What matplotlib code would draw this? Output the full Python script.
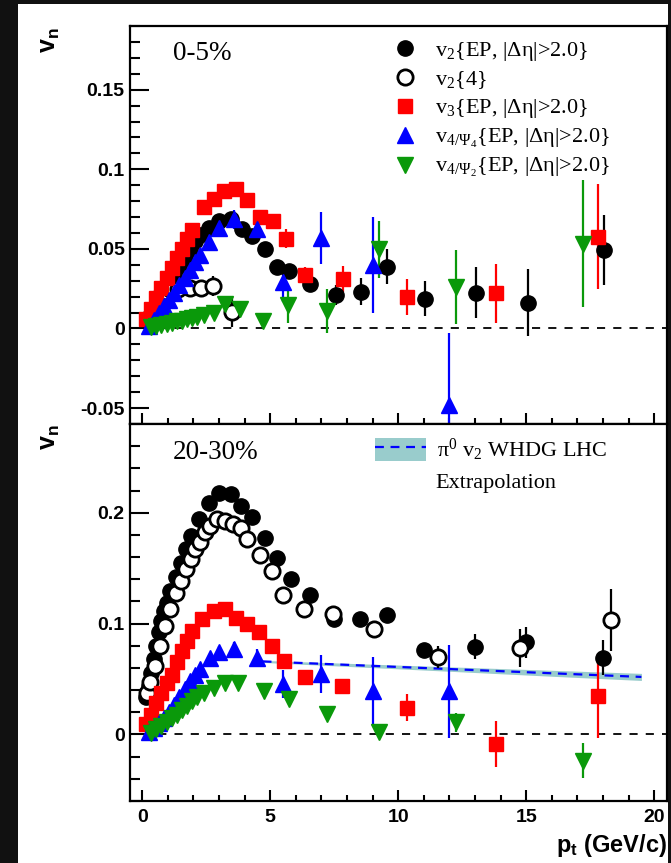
import numpy as np
import matplotlib
matplotlib.use("Agg")
from matplotlib import pyplot as plt
from matplotlib.patches import Rectangle, Patch
from matplotlib.lines import Line2D
from matplotlib.legend_handler import HandlerTuple
from matplotlib.ticker import MultipleLocator

plt.rcParams['font.family'] = ['Liberation Sans', 'DejaVu Sans']
plt.rcParams['mathtext.fontset'] = 'custom'
plt.rcParams['mathtext.rm'] = 'Liberation Serif'
plt.rcParams['mathtext.it'] = 'Liberation Serif:italic'
plt.rcParams['mathtext.bf'] = 'Liberation Sans:bold'

# ---------------- 0-5% centrality ----------------
c05_v2ep_pt = [0.25, 0.45, 0.65, 0.85, 1.05, 1.25, 1.45, 1.65, 1.85, 2.05, 2.25,
               2.6, 3.0, 3.45, 3.9, 4.3, 4.8, 5.25, 5.75, 6.55, 7.55, 8.55, 9.55,
               11.05, 13.05, 15.05, 18.05]
c05_v2ep = [0.007, 0.012, 0.0175, 0.023, 0.0285, 0.034, 0.039, 0.0445, 0.050, 0.055, 0.059,
            0.0634, 0.0675, 0.069, 0.0627, 0.058, 0.050, 0.0389, 0.036, 0.028, 0.021, 0.0232, 0.0389,
            0.0188, 0.0226, 0.0163, 0.0493]
c05_v2ep_err = [0.001] * 11 + [0.002, 0.002, 0.002, 0.002, 0.002, 0.002, 0.003, 0.003, 0.004,
                               0.006, 0.0087, 0.011, 0.011, 0.016, 0.021, 0.022]

c05_v24_pt = [0.75, 0.95, 1.1, 1.4, 1.85, 2.3, 2.75, 3.5]
c05_v24 = [0.021, 0.023, 0.025, 0.025, 0.0257, 0.0257, 0.0267, 0.0104]
c05_v24_err = [0.002, 0.002, 0.002, 0.002, 0.002, 0.003, 0.006, 0.0094]

c05_v3_pt = [0.15, 0.35, 0.55, 0.75, 0.95, 1.15, 1.35, 1.55, 1.75, 1.95,
             2.4, 2.8, 3.2, 3.65, 4.1, 4.6, 5.1, 5.6, 6.35, 7.85, 10.35, 13.8, 17.8]
c05_v3 = [0.006, 0.0125, 0.019, 0.0255, 0.032, 0.038, 0.044, 0.050, 0.056, 0.062,
          0.076, 0.0816, 0.0863, 0.0878, 0.0807, 0.070, 0.0675, 0.0565, 0.0334, 0.031, 0.0198, 0.0221, 0.0577]
c05_v3_err = [0.001] * 10 + [0.001, 0.001, 0.001, 0.002, 0.002, 0.003, 0.004, 0.006, 0.005,
                             0.008, 0.0115, 0.0186, 0.033]

c05_v4p4_pt = [0.25, 0.45, 0.65, 0.85, 1.05, 1.25, 1.45, 1.65, 1.85, 2.05, 2.25,
               2.6, 3.0, 3.6, 4.5, 5.5, 7.0, 9.0, 12.0]
c05_v4p4 = [0.0015, 0.0055, 0.0095, 0.014, 0.018, 0.0225, 0.027, 0.032, 0.037, 0.042, 0.046,
            0.0543, 0.0634, 0.0686, 0.0627, 0.0289, 0.057, 0.0398, -0.048]
c05_v4p4_err = [0.001] * 11 + [0.002, 0.003, 0.006, 0.006, 0.012, 0.0164, 0.030, 0.045]

c05_v4p2_pt = [0.35, 0.55, 0.75, 0.95, 1.15, 1.35, 1.55, 1.75, 1.95, 2.15, 2.4,
               2.8, 3.25, 3.8, 4.7, 5.7, 7.2, 9.25, 12.25, 17.2]
c05_v4p2 = [0.001, 0.0015, 0.002, 0.003, 0.0035, 0.0045, 0.005, 0.006, 0.0065, 0.0075, 0.0085,
            0.010, 0.0152, 0.0125, 0.0048, 0.0145, 0.011, 0.0497, 0.0263, 0.0533]
c05_v4p2_err = [0.001] * 11 + [0.002, 0.0055, 0.003, 0.002, 0.011, 0.014, 0.0178, 0.0233, 0.040]

# ---------------- 20-30% centrality ----------------
c2030_v2ep_pt = [0.15, 0.25, 0.35, 0.45, 0.55, 0.65, 0.75, 0.85, 0.95,
                 1.1, 1.3, 1.5, 1.7, 1.9, 2.2, 2.6, 3.0, 3.45, 3.85, 4.3, 4.8, 5.25,
                 5.8, 6.55, 7.5, 8.5, 9.55, 11.0, 13.0, 15.0, 18.0]
c2030_v2ep = [0.034, 0.044, 0.055, 0.068, 0.080, 0.092, 0.102, 0.111, 0.119,
              0.129, 0.142, 0.155, 0.167, 0.179, 0.194, 0.209, 0.218, 0.217, 0.206, 0.196, 0.177, 0.159,
              0.1405, 0.126, 0.104, 0.104, 0.1075, 0.076, 0.079, 0.083, 0.069]
c2030_v2ep_err = [0.001] * 22 + [0.004, 0.004, 0.005, 0.005, 0.005, 0.006, 0.0113, 0.0143, 0.0158]

c2030_v24_pt = [0.2, 0.3, 0.5, 0.7, 0.9, 1.1, 1.3, 1.5, 1.7, 1.9, 2.05, 2.25, 2.45, 2.65,
                2.9, 3.25, 3.55, 3.85, 4.1, 4.6, 5.05, 5.5, 6.3, 7.45, 9.05, 11.55, 14.75, 18.3]
c2030_v24 = [0.037, 0.047, 0.062, 0.080, 0.098, 0.113, 0.128, 0.138, 0.149, 0.158, 0.167, 0.174, 0.183, 0.188,
             0.194, 0.1925, 0.1895, 0.1865, 0.176, 0.1615, 0.147, 0.126, 0.113, 0.109, 0.0955, 0.070, 0.078, 0.103]
c2030_v24_err = [0.001] * 20 + [0.002, 0.003, 0.003, 0.004, 0.005, 0.010, 0.0173, 0.028]

c2030_v3_pt = [0.15, 0.35, 0.55, 0.75, 0.95, 1.15, 1.35, 1.55, 1.75, 1.95,
               2.35, 2.8, 3.25, 3.65, 4.1, 4.55, 5.05, 5.55, 6.35, 7.8, 10.35, 13.8, 17.8]
c2030_v3 = [0.009, 0.018, 0.028, 0.037, 0.046, 0.054, 0.065, 0.0753, 0.0843, 0.093,
            0.104, 0.111, 0.113, 0.105, 0.0994, 0.0925, 0.080, 0.066, 0.052, 0.0438, 0.0243, -0.0087, 0.0348]
c2030_v3_err = [0.001] * 16 + [0.002, 0.004, 0.004, 0.004, 0.0125, 0.021, 0.038]

c2030_v4p4_pt = [0.25, 0.45, 0.65, 0.85, 1.05, 1.25, 1.45, 1.65, 1.85, 2.05, 2.25,
                 2.65, 3.0, 3.6, 4.5, 5.5, 7.0, 9.0, 12.0]
c2030_v4p4 = [0.002, 0.006, 0.010, 0.015, 0.020, 0.027, 0.034, 0.041, 0.048, 0.054, 0.059,
              0.069, 0.0744, 0.0768, 0.0694, 0.0453, 0.0543, 0.0393, 0.039]
c2030_v4p4_err = [0.001] * 11 + [0.003, 0.005, 0.007, 0.008, 0.0128, 0.0173, 0.031, 0.042]

c2030_v4p2_pt = [0.35, 0.55, 0.75, 0.95, 1.15, 1.35, 1.55, 1.75, 1.95, 2.15, 2.4,
                 2.8, 3.25, 3.75, 4.75, 5.75, 7.2, 9.25, 12.25, 17.2]
c2030_v4p2 = [0.001, 0.005, 0.008, 0.011, 0.0145, 0.018, 0.022, 0.026, 0.030, 0.0335, 0.0378,
              0.0423, 0.0462, 0.0462, 0.0393, 0.0324, 0.0183, 0.0024, 0.0108, -0.0238]
c2030_v4p2_err = [0.001] * 14 + [0.002, 0.002, 0.002, 0.003, 0.009, 0.0158]

# WHDG pi0 v2 extrapolation band
whdg_pt = [4.7, 8.0, 12.0, 16.0, 19.5]
whdg_v2 = [0.0659, 0.0628, 0.0590, 0.0552, 0.0519]
whdg_lo = [0.0650, 0.0614, 0.0570, 0.0525, 0.0487]
whdg_hi = [0.0668, 0.0642, 0.0610, 0.0579, 0.0551]

GREEN = '#0a990a'
BAND = '#99cccc'

series_style = [
    dict(marker='o', color='black', mfc='black', ms=11),
    dict(marker='o', color='black', mfc='white', ms=11, mew=2.0),
    dict(marker='s', color='#ff0000', mfc='#ff0000', ms=10),
    dict(marker='^', color='#0000ff', mfc='#0000ff', ms=11),
    dict(marker='v', color=GREEN, mfc=GREEN, ms=11),
]

labels = [
    r'v$_2${EP, |Δη|>2.0}',
    r'v$_2${4}',
    r'v$_3${EP, |Δη|>2.0}',
    r'v$_{4/\Psi_4}${EP, |Δη|>2.0}',
    r'v$_{4/\Psi_2}${EP, |Δη|>2.0}',
]

fig = plt.figure(figsize=(6.71, 8.63), dpi=100, facecolor='#111111')
fig.patches.append(Rectangle((18 / 671, 0), 650 / 671, 859 / 863,
                             transform=fig.transFigure, facecolor='white',
                             edgecolor='none', zorder=-10))

ax1 = fig.add_axes([129.5 / 671, 1 - 424 / 863, 537.5 / 671, 398 / 863])
ax2 = fig.add_axes([129.5 / 671, 1 - 801 / 863, 537.5 / 671, 377 / 863])


def draw_panel(ax, data):
    handles = []
    for (pt, v, err), st in zip(data, series_style):
        cont = ax.errorbar(pt, v, yerr=err, ls='none', elinewidth=1.6,
                           capsize=0, mec=st['color'], **st)
        handles.append(cont[0])
    ax.plot([0, 20.5], [0, 0], ls=(0, (4.5, 4.5)), color='black', lw=1.3, zorder=0)
    ax.set_xlim(-0.5, 20.5)
    ax.xaxis.set_major_locator(MultipleLocator(5))
    ax.xaxis.set_minor_locator(MultipleLocator(1))
    ax.tick_params(which='both', direction='in', top=False, right=False,
                   labelsize=14, width=1.5)
    ax.tick_params(axis='y', which='major', length=14)
    ax.tick_params(axis='y', which='minor', length=7)
    ax.tick_params(axis='x', which='major', length=8, pad=6)
    ax.tick_params(axis='x', which='minor', length=4)
    for sp in ax.spines.values():
        sp.set_linewidth(1.6)
    return handles


top_data = [
    (c05_v2ep_pt, c05_v2ep, c05_v2ep_err),
    (c05_v24_pt, c05_v24, c05_v24_err),
    (c05_v3_pt, c05_v3, c05_v3_err),
    (c05_v4p4_pt, c05_v4p4, c05_v4p4_err),
    (c05_v4p2_pt, c05_v4p2, c05_v4p2_err),
]
bot_data = [
    (c2030_v2ep_pt, c2030_v2ep, c2030_v2ep_err),
    (c2030_v24_pt, c2030_v24, c2030_v24_err),
    (c2030_v3_pt, c2030_v3, c2030_v3_err),
    (c2030_v4p4_pt, c2030_v4p4, c2030_v4p4_err),
    (c2030_v4p2_pt, c2030_v4p2, c2030_v4p2_err),
]

# band goes under the markers in the lower panel
ax2.fill_between(whdg_pt, whdg_lo, whdg_hi, color=BAND, lw=0, zorder=1)
ax2.plot(whdg_pt, whdg_v2, color='#0000ff', ls=(0, (4, 3)), lw=1.6, zorder=1.5)

h1 = draw_panel(ax1, top_data)
draw_panel(ax2, bot_data)

ax1.set_ylim(-0.06, 0.19)
ax1.yaxis.set_minor_locator(MultipleLocator(0.01))
ax1.set_yticks([-0.05, 0, 0.05, 0.1, 0.15])
ax1.set_yticklabels(['-0.05', '0', '0.05', '0.1', '0.15'], fontweight='bold')
ax1.set_xticklabels([])

ax2.set_ylim(-0.06, 0.28)
ax2.yaxis.set_minor_locator(MultipleLocator(0.02))
ax2.set_yticks([0, 0.1, 0.2])
ax2.set_yticklabels(['0', '0.1', '0.2'], fontweight='bold')
ax2.set_xticks([0, 5, 10, 15, 20])
ax2.set_xticklabels(['0', '5', '10', '15', '20'], fontweight='bold')

ax1.legend(h1, labels, loc='upper left', bbox_to_anchor=(0.472, 0.988),
           frameon=False, prop={'family': 'Liberation Serif', 'size': 16},
           handletextpad=0.75, labelspacing=0.29, borderaxespad=0,
           handlelength=1.2)

band_handle = (Patch(facecolor=BAND, edgecolor='none'),
               Line2D([], [], color='#0000ff', ls=(0, (4, 3)), lw=1.6))
ax2.legend([band_handle], [r'π$^0$ v$_2$ WHDG LHC'], loc='upper left',
           bbox_to_anchor=(0.44, 0.99), frameon=False,
           prop={'family': 'Liberation Serif', 'size': 16},
           handler_map={tuple: HandlerTuple(ndivide=1, pad=0)},
           handlelength=2.3, handleheight=1.2, handletextpad=0.5,
           borderaxespad=0)
ax2.text(0.570, 0.841, 'Extrapolation', transform=ax2.transAxes,
         family='Liberation Serif', fontsize=16, va='center', ha='left')

ax1.text(0.08, 0.93, '0-5%', transform=ax1.transAxes,
         family='Liberation Serif', fontsize=19.5, va='center', ha='left')
ax2.text(0.08, 0.925, '20-30%', transform=ax2.transAxes,
         family='Liberation Serif', fontsize=19.5, va='center', ha='left')

fig.text(50 / 671, 1 - 40 / 863, r'$\mathbf{v_n}$', rotation=90,
         fontsize=18, ha='center', va='center')
fig.text(50 / 671, 1 - 437 / 863, r'$\mathbf{v_n}$', rotation=90,
         fontsize=18, ha='center', va='center')
fig.text(667 / 671, 1 - 845 / 863, r'$\mathbf{p_t}$ (GeV/c)', fontsize=17,
         fontweight='bold', ha='right', va='center')

fig.savefig('out.png', dpi=100, facecolor=fig.get_facecolor())
